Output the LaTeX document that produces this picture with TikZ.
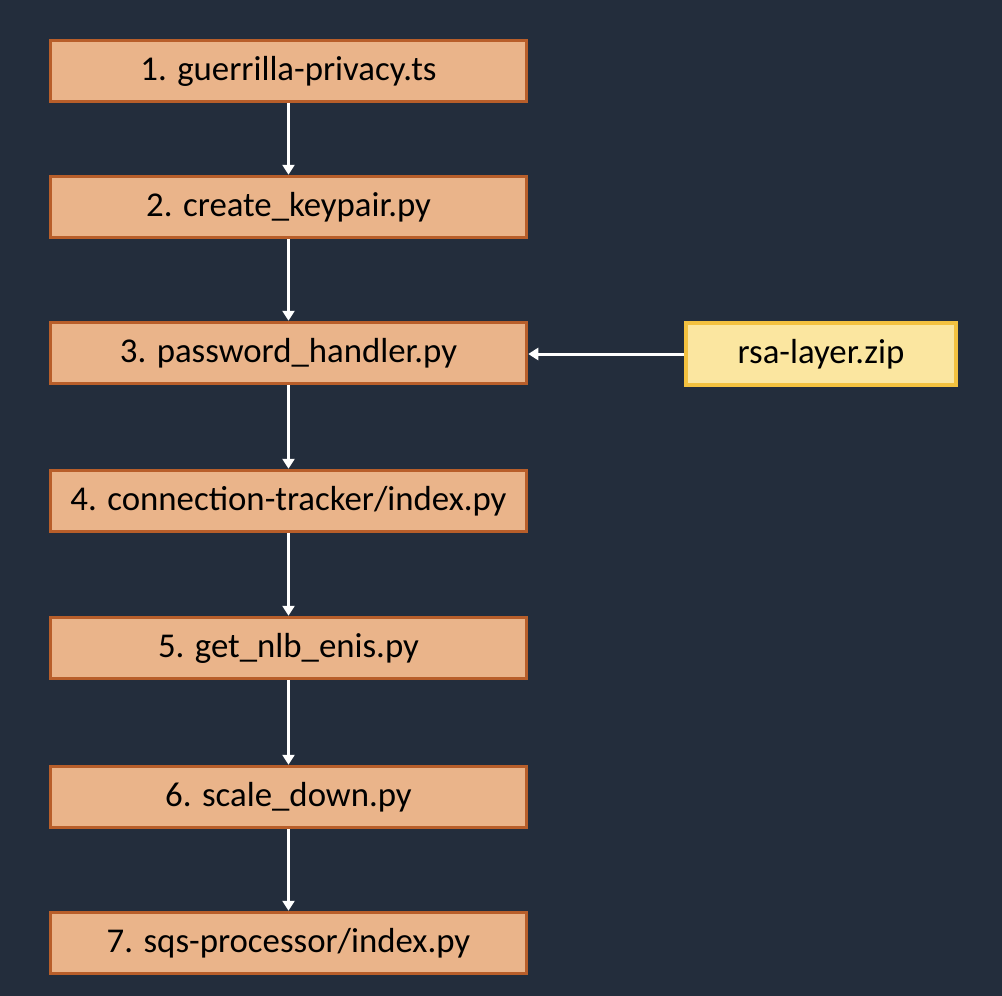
\documentclass[tikz,border=0pt]{standalone}
\usepackage{fontspec}
\setmainfont{Carlito}
\usetikzlibrary{arrows.meta}
\definecolor{bgnavy}{HTML}{232D3C}
\definecolor{stepfill}{HTML}{EAB48A}
\definecolor{stepline}{HTML}{B85E2A}
\definecolor{layerfill}{HTML}{FBE6A0}
\definecolor{layerline}{HTML}{F3C13F}

\begin{document}
\begin{tikzpicture}[x=0.5pt, y=-0.5pt,
    stepbox/.style={draw=stepline, fill=stepfill, line width=1.75pt,
        minimum width=238pt, minimum height=30.5pt, inner sep=0pt,
        font=\fontsize{17.4}{21}\selectfont},
    layerbox/.style={draw=layerline, fill=layerfill, line width=1.75pt,
        minimum width=135pt, minimum height=31pt, inner sep=0pt,
        font=\fontsize{17.4}{21}\selectfont},
    flow/.style={white, line width=1.5pt,
        -{Triangle[width=6pt, length=5pt]}}]

    % background and page size
    \fill[bgnavy] (0,0) rectangle (1002,996);
    \useasboundingbox (0,0) rectangle (1002,996);

    % Steps
    \node[stepbox] (s1) at (288.5, 71) {1. guerrilla-privacy.ts};
    \node[stepbox] (s2) at (288.5, 207) {2. create\_keypair.py};
    \node[stepbox] (s3) at (288.5, 353) {3. password\_handler.py};
    \node[stepbox] (s4) at (288.5, 501) {4. connection-tracker/index.py};
    \node[stepbox] (s5) at (288.5, 648) {5. get\_nlb\_enis.py};
    \node[stepbox] (s6) at (288.5, 797) {6. scale\_down.py};
    \node[stepbox] (s7) at (288.5, 943) {7. sqs-processor/index.py};

    % Layer
    \node[layerbox] (rsa) at (821, 354) {rsa-layer.zip};

    % Arrows
    \foreach \a/\b in {s1/s2, s2/s3, s3/s4, s4/s5, s5/s6, s6/s7}
        \draw[flow] (\a) -- (\b);
    \draw[flow] (rsa) -- (rsa -| s3.east);

\end{tikzpicture}
\end{document}
